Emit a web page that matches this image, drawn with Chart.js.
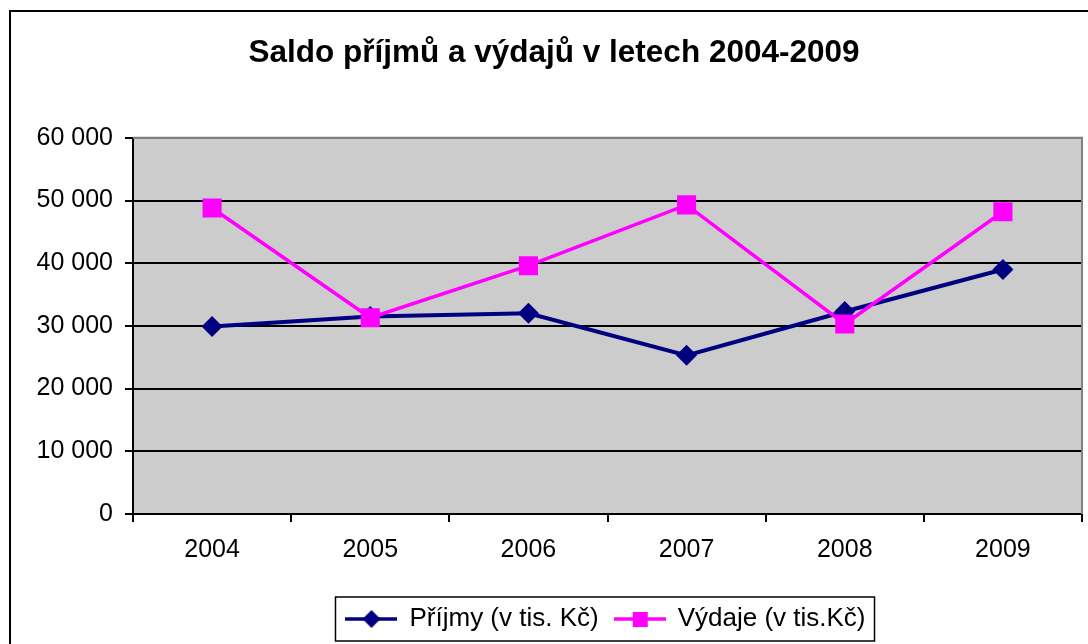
<!DOCTYPE html>
<html lang="cs">
<head>
<meta charset="UTF-8">
<title>Saldo příjmů a výdajů v letech 2004-2009</title>
<script src="https://cdn.jsdelivr.net/npm/chart.js@4"></script>
<style>
  html, body { margin: 0; padding: 0; background: #fff; overflow: hidden; }
  .frame {
    position: absolute; left: 9px; top: 10px; width: 1200px; height: 800px;
    border-left: 2px solid #000; border-top: 2px solid #000;
  }
  #chart { position: absolute; left: 0; top: 0; }
</style>
</head>
<body>
<div class="frame"></div>
<canvas id="chart" width="1088" height="644"></canvas>
<script>
// data (thousands of CZK)
const years = ["2004", "2005", "2006", "2007", "2008", "2009"];
const prijmy = [29900, 31500, 32000, 25300, 32300, 39000];
const vydaje = [48800, 31300, 39600, 49300, 30300, 48200];
const seriesNames = ["Příjmy (v tis. Kč)", "Výdaje (v tis.Kč)"];
const yTicks = [0, 10000, 20000, 30000, 40000, 50000, 60000];

const NAVY = "#000080";
const MAGENTA = "#FF00FF";
const FONT = "'Liberation Sans', Arial, sans-serif";

// legend swatch: line with marker in the middle
function swatch(color, shape) {
  const c = document.createElement("canvas");
  c.width = 52; c.height = 22;
  const g = c.getContext("2d");
  g.strokeStyle = color; g.fillStyle = color; g.lineWidth = 3.5;
  g.beginPath(); g.moveTo(0, 11); g.lineTo(52, 11); g.stroke();
  if (shape === "diamond") {
    g.beginPath(); g.moveTo(26, 2); g.lineTo(35, 11); g.lineTo(26, 20); g.lineTo(17, 11); g.closePath(); g.fill();
  } else {
    g.fillRect(19, 4, 15, 15);
  }
  return c;
}
const swatches = [swatch(NAVY, "diamond"), swatch(MAGENTA, "square")];

function fmt(v) {
  return String(v).replace(/\B(?=(\d{3})+(?!\d))/g, " ");
}

// gray plot area, gray top/right edge, box around legend
const plotArea = {
  id: "plotArea",
  afterLayout(chart) {
    // legend and title sit a bit right of centre in the original
    chart.legend.left += 65; chart.legend.right += 65;
    chart.titleBlock.left += 13; chart.titleBlock.right += 13;
  },
  beforeDraw(chart) {
    const {ctx, chartArea: a} = chart;
    ctx.save();
    ctx.fillStyle = "#CCCCCC";
    ctx.fillRect(a.left, a.top, a.right - a.left, a.bottom - a.top);
    ctx.restore();
  },
  beforeDatasetsDraw(chart) {
    const {ctx, chartArea: a} = chart;
    ctx.save();
    ctx.strokeStyle = "#808080";
    ctx.lineWidth = 2;
    ctx.beginPath();
    ctx.moveTo(a.left, a.top);
    ctx.lineTo(a.right, a.top);
    ctx.lineTo(a.right, a.bottom);
    ctx.stroke();
    ctx.restore();
  },
  afterDraw(chart) {
    const hb = chart.legend.legendHitBoxes;
    if (!hb || !hb.length) return;
    const ctx = chart.ctx;
    const l = Math.min(...hb.map(b => b.left)) - 11;
    const r = Math.max(...hb.map(b => b.left + b.width)) + 9;
    const t = Math.min(...hb.map(b => b.top)) - 9;
    const b = Math.max(...hb.map(b => b.top + b.height)) + 9;
    ctx.save();
    ctx.strokeStyle = "#000";
    ctx.lineWidth = 1.5;
    ctx.strokeRect(l, t, r - l, b - t);
    ctx.restore();
  }
};

new Chart(document.getElementById("chart"), {
  type: "line",
  data: {
    labels: years,
    datasets: [
      {
        label: seriesNames[0],
        data: prijmy,
        borderColor: NAVY,
        backgroundColor: NAVY,
        borderWidth: 4,
        pointStyle: "rectRot",
        pointRadius: 10.5,
        pointBorderWidth: 0,
        pointHoverRadius: 10.5,
        tension: 0,
        order: 1
      },
      {
        label: seriesNames[1],
        data: vydaje,
        borderColor: MAGENTA,
        backgroundColor: MAGENTA,
        borderWidth: 3.5,
        pointStyle: "rect",
        pointRadius: 13.5,
        pointBorderWidth: 0,
        pointHoverRadius: 13.5,
        tension: 0,
        order: 0
      }
    ]
  },
  options: {
    responsive: false,
    animation: false,
    devicePixelRatio: 1,
    layout: { autoPadding: false, padding: { left: 0, right: 6, top: 0, bottom: 2 } },
    plugins: {
      title: {
        display: true,
        text: "Saldo příjmů a výdajů v letech 2004-2009",
        color: "#000",
        font: { family: FONT, size: 31.5, weight: "bold" },
        padding: { top: 34, bottom: 66 }
      },
      legend: {
        position: "bottom",
        labels: {
          color: "#000",
          font: { family: FONT, size: 26 },
          usePointStyle: true,
          pointStyleWidth: 50,
          padding: 16,
          generateLabels() {
            return seriesNames.map((name, i) => ({
              text: name,
              pointStyle: swatches[i],
              fontColor: "#000",
              datasetIndex: i,
              lineWidth: 0
            }));
          }
        }
      },
      tooltip: { enabled: false }
    },
    scales: {
      x: {
        offset: true,
        afterFit(s) { s.height = 76; },
        grid: { offset: true, drawOnChartArea: false, drawTicks: true, tickLength: 8, color: "#000", lineWidth: 2 },
        border: { color: "#000", width: 2 },
        ticks: { color: "#000", font: { family: FONT, size: 25 }, padding: 13, maxRotation: 0 }
      },
      y: {
        min: 0,
        max: 60000,
        afterFit(s) { s.width = 133; },
        afterBuildTicks(s) { s.ticks = yTicks.map(v => ({ value: v })); },
        grid: {
          color: ctx => (ctx.tick && ctx.tick.value === 60000 ? "#808080" : "#000"),
          lineWidth: 2,
          tickLength: 8,
          tickColor: "#000"
        },
        border: { color: "#000", width: 2 },
        ticks: {
          color: "#000",
          font: { family: FONT, size: 25 },
          padding: 12,
          callback: v => fmt(v)
        }
      }
    }
  },
  plugins: [plotArea]
});
</script>
</body>
</html>
